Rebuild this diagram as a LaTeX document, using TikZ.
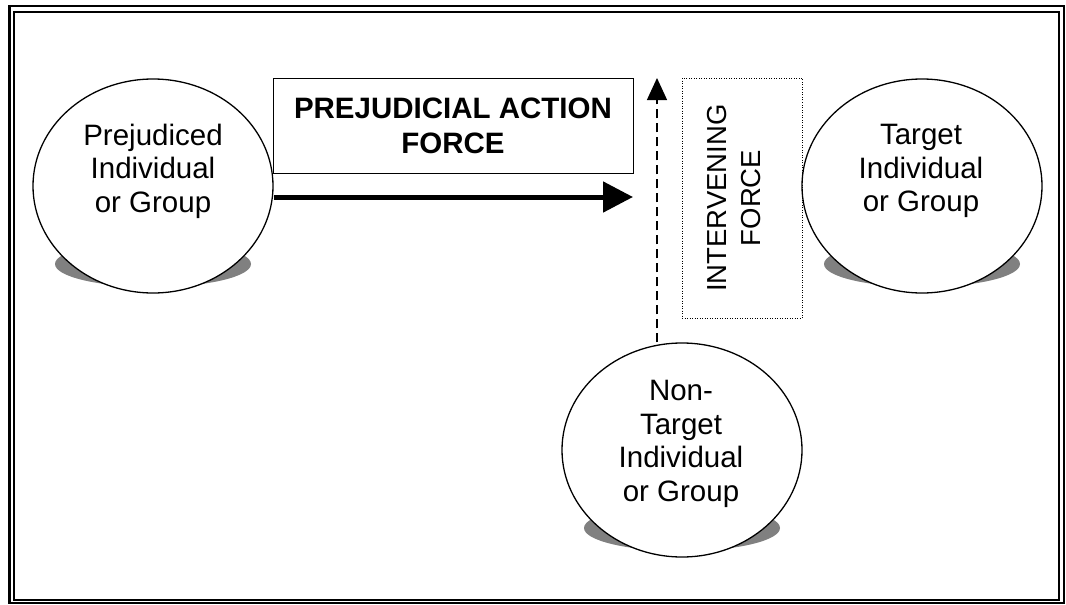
\documentclass[tikz,border=0pt]{standalone}
\usepackage{fontspec}
\setmainfont{Liberation Sans}
\usetikzlibrary{shapes.geometric,arrows.meta}
\tikzset{
    party/.style={ellipse, draw, line width=1.3pt, fill=white, minimum width=240pt, minimum height=214pt, inner sep=0pt},
    partytext/.style={align=center, font=\fontsize{29.5}{33.5}\selectfont},
    footing/.style={fill=gray},
    forcetext/.style={align=center, font=\fontsize{27.5}{34}\selectfont}
}
\begin{document}
\begin{tikzpicture}[x=1pt, y=-1pt]
    \useasboundingbox (0,0) rectangle (1066,605);
    \draw[line width=2.5pt] (9.5,6) rectangle (1064,603);
    \draw[line width=1.5pt] (14,12) rectangle (1059,600);
    \foreach \cx/\cy in {153/186, 922/186, 682/450}
        \fill[footing] (\cx,\cy+78) ellipse [x radius=98, y radius=23];
    \node[party] (prej) at (153,186) {};
    \node[party] (target) at (922,186) {};
    \node[party] (other) at (682,450) {};
    \node[partytext] (prejtext) at (153,171) {Prejudiced\\Individual\\or Group};
    \node[partytext] (targettext) at (921,171) {Target\\Individual\\or Group};
    \node[partytext] (othertext) at (681,444) {Non-\\Target\\Individual\\or Group};
    \node[draw, line width=1pt, minimum width=360pt, minimum height=95pt, align=center, font=\fontsize{29.5}{35}\selectfont\bfseries] (action) at (453,125.5) {PREJUDICIAL ACTION\\FORCE};
    \node[draw, line width=1pt, dash pattern=on 1pt off 1.5pt, minimum width=120pt, minimum height=240pt] (intervene) at (742,198) {};
    \node[forcetext, rotate=90] (intervenetext) at (734,198) {INTERVENING\\FORCE};
    \coordinate (push) at (633,197);
    \draw[line width=5pt, -{Triangle[length=30pt,width=30pt]}] (prej.east |- push) -- (push);
    \coordinate (up) at (657,78);
    \draw[line width=1.3pt, dash pattern=on 9pt off 5pt, -{Triangle[length=22pt,width=20pt]}] (other.north -| up) -- (up);
\end{tikzpicture}
\end{document}
